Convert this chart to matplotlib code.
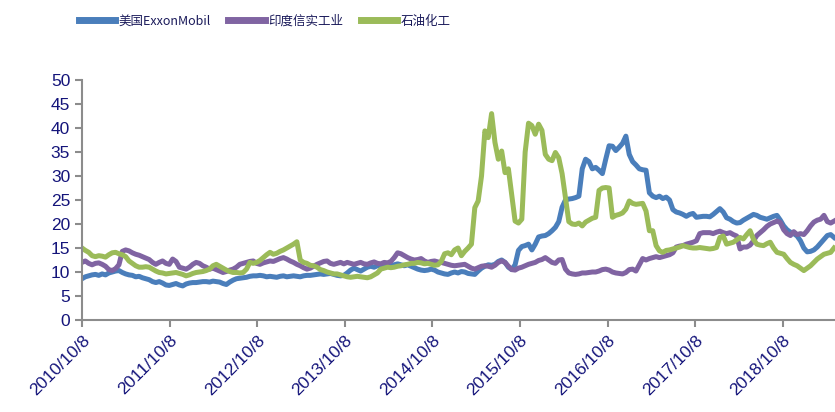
import matplotlib
matplotlib.use("Agg")
import matplotlib.pyplot as plt
import pandas as pd

plt.rcParams["font.family"] = ["Liberation Sans", "Noto Sans CJK SC", "DejaVu Sans"]

# 双周数据, 起始 2010/10/8
start = "2010-10-08"

exxon = [
    8.6, 9.0, 9.2, 9.4, 9.5, 9.3, 9.6, 9.4, 9.8, 10.0, 10.2, 10.3, 9.9,
    9.6, 9.4, 9.3, 9.0, 9.1, 8.8, 8.6, 8.4, 8.0, 7.8, 8.0, 7.7, 7.3,
    7.2, 7.4, 7.6, 7.3, 7.1, 7.5, 7.7, 7.8, 7.8, 7.9, 8.0, 8.0, 7.9,
    8.1, 8.0, 7.9, 7.6, 7.4, 7.9, 8.3, 8.6, 8.7, 8.8, 8.9, 9.1, 9.2,
    9.2, 9.3, 9.2, 9.0, 9.1, 9.0, 8.9, 9.1, 9.2, 9.0, 9.1, 9.2, 9.1,
    9.0, 9.2, 9.3, 9.3, 9.4, 9.5, 9.6, 9.5, 9.6, 9.7, 9.5, 9.3, 9.2,
    9.3, 9.8, 10.4, 10.8, 10.5, 10.2, 10.6, 11.0, 11.2, 11.0, 11.3, 11.4, 11.5,
    11.6, 11.4, 11.5, 11.7, 11.5, 11.3, 11.5, 11.2, 10.9, 10.6, 10.4, 10.3, 10.4,
    10.6, 10.4, 10.0, 9.8, 9.6, 9.5, 9.8, 10.0, 9.8, 10.1, 10.0, 9.7, 9.6,
    9.5, 10.2, 10.8, 11.2, 11.5, 11.4, 11.6, 12.2, 12.5, 12.0, 11.0, 10.5, 11.5,
    14.5, 15.3, 15.5, 15.8, 14.6, 15.8, 17.3, 17.5, 17.6, 18.0, 18.6, 19.3, 20.5,
    23.5, 25.0, 25.2, 25.3, 25.5, 25.8, 31.5, 33.5, 33.0, 31.5, 31.8, 31.2, 30.5,
    33.5, 36.3, 36.2, 35.3, 36.0, 36.8, 38.3, 34.5, 33.0, 32.3, 31.5, 31.3, 31.2,
    26.5, 25.8, 25.5, 25.8, 25.3, 25.6, 25.0, 23.0, 22.5, 22.3, 22.0, 21.6, 22.0,
    22.2, 21.4, 21.5, 21.6, 21.6, 21.5, 22.0, 22.6, 23.2, 22.5, 21.3, 21.0, 20.5,
    20.2, 20.3, 20.8, 21.2, 21.6, 22.0, 21.8, 21.4, 21.2, 21.0, 21.3, 21.6, 21.8,
    20.8, 19.6, 18.8, 18.3, 18.0, 17.5, 16.5, 15.0, 14.2, 14.3, 14.6, 15.2, 16.0,
    16.8, 17.6, 17.8, 17.2,
]

reliance = [
    12.0, 12.3, 11.8, 11.5, 11.8, 11.9, 11.6, 11.2, 10.5, 10.3, 10.7, 11.5, 14.3,
    14.6, 14.4, 14.0, 13.7, 13.5, 13.2, 12.9, 12.6, 12.0, 11.6, 12.0, 12.3, 11.8,
    11.6, 12.7, 12.2, 11.0, 10.8, 10.6, 11.0, 11.6, 12.0, 11.8, 11.3, 11.0, 10.6,
    10.8, 10.5, 10.2, 9.9, 10.1, 10.4, 10.6, 11.0, 11.6, 11.8, 12.0, 12.2, 12.3,
    11.8, 11.6, 11.9, 12.1, 12.3, 12.2, 12.5, 12.8, 13.0, 12.7, 12.3, 12.0, 11.6,
    11.3, 10.9, 10.6, 10.8, 11.2, 11.6, 11.9, 12.2, 12.3, 11.8, 11.6, 11.8, 12.0,
    11.7, 12.0, 11.8, 11.6, 11.8, 12.0, 11.7, 11.6, 11.9, 12.1, 11.8, 11.7, 12.0,
    11.9, 12.2, 13.0, 14.0, 13.8, 13.4, 13.0, 12.7, 12.5, 12.6, 12.8, 12.3, 12.0,
    12.2, 12.3, 12.1, 12.0, 11.8, 11.6, 11.4, 11.3, 11.4, 11.5, 11.6, 11.2, 10.8,
    10.6, 10.9, 11.2, 11.3, 11.2, 11.0, 11.4, 12.0, 12.3, 12.0, 11.2, 10.5, 10.4,
    10.8, 11.0, 11.3, 11.6, 11.8, 12.0, 12.4, 12.6, 13.0, 12.5, 12.0, 11.8, 12.5,
    12.6, 10.6, 9.8, 9.6, 9.5, 9.6, 9.8, 9.8, 9.9, 10.0, 10.0, 10.2, 10.5,
    10.6, 10.4, 10.0, 9.8, 9.7, 9.6, 9.9, 10.5, 10.6, 10.2, 11.5, 12.8, 12.5,
    12.8, 13.0, 13.2, 13.0, 13.2, 13.4, 13.6, 14.0, 15.2, 15.4, 15.5, 15.8, 16.0,
    16.2, 16.5, 18.0, 18.2, 18.2, 18.2, 18.0, 18.3, 18.5, 18.2, 18.0, 18.2, 17.8,
    17.5, 14.8, 15.2, 15.2, 15.6, 16.5, 17.6, 18.2, 18.8, 19.5, 20.0, 20.3, 20.6,
    20.3, 18.8, 18.0, 17.6, 18.4, 17.8, 18.0, 17.8, 18.6, 19.6, 20.4, 20.8, 21.0,
    21.8, 20.5, 20.2, 20.6,
]

petrochem = [
    15.0, 14.5, 14.1, 13.4, 13.2, 13.4, 13.3, 13.1, 13.6, 14.0, 14.1, 13.8, 13.6,
    13.2, 12.3, 11.8, 11.3, 11.0, 11.0, 11.1, 11.0, 10.6, 10.2, 9.9, 9.8, 9.6,
    9.7, 9.8, 9.9, 9.7, 9.5, 9.2, 9.4, 9.7, 9.9, 10.0, 10.1, 10.3, 10.6,
    11.3, 11.6, 11.2, 10.8, 10.4, 10.1, 9.9, 9.9, 9.8, 9.9, 10.6, 12.0, 11.8,
    12.0, 12.4, 13.0, 13.6, 14.1, 13.7, 13.9, 14.3, 14.6, 15.0, 15.4, 15.8, 16.3,
    12.5, 12.0, 11.8, 11.4, 11.3, 11.0, 10.5, 10.3, 10.0, 9.8, 9.6, 9.6, 9.4,
    9.2, 9.0, 8.9, 9.0, 9.1, 9.0, 8.9, 8.8, 9.0, 9.4, 9.8, 10.6, 10.8,
    11.0, 10.9, 11.0, 11.2, 11.3, 11.5, 11.6, 11.8, 11.8, 12.0, 11.9, 11.7, 11.8,
    11.6, 11.4, 11.5, 12.2, 13.8, 14.0, 13.6, 14.6, 15.0, 13.4, 14.3, 15.0, 15.8,
    23.4, 24.8, 30.0, 39.4, 38.0, 43.0, 37.0, 33.5, 35.2, 30.7, 31.5, 26.0, 20.6,
    20.2, 21.0, 35.0, 41.0, 40.5, 38.7, 40.8, 39.5, 34.5, 33.5, 33.2, 34.9, 33.8,
    30.5, 25.5, 20.5, 20.0, 19.9, 20.2, 19.6, 20.4, 20.8, 21.2, 21.4, 27.0, 27.5,
    27.6, 27.5, 21.4, 21.8, 22.0, 22.3, 23.1, 24.8, 24.3, 24.1, 24.2, 24.3, 22.7,
    18.6, 18.6, 15.5, 14.4, 14.1, 14.5, 14.6, 14.8, 15.0, 15.2, 15.5, 15.3, 15.1,
    15.0, 15.0, 15.1, 15.0, 14.9, 14.8, 14.9, 15.1, 17.2, 17.5, 15.8, 16.0, 16.2,
    16.7, 17.2, 16.9, 17.8, 18.6, 16.8, 15.8, 15.6, 15.5, 15.9, 16.2, 15.0, 14.1,
    13.9, 13.7, 12.8, 12.0, 11.6, 11.3, 10.8, 10.3, 10.8, 11.3, 12.0, 12.7, 13.2,
    13.7, 13.9, 14.1, 15.0,
]

series = [
    ("美国ExxonMobil", exxon, "#4A7EBB"),
    ("印度信实工业", reliance, "#8064A2"),
    ("石油化工", petrochem, "#9BBB59"),
]

tick_years = list(range(2010, 2019))
tick_labels = [f"{y}/10/8" for y in tick_years]
navy = "#14147A"
grey = "#8C8C8C"

fig = plt.figure(figsize=(8.35, 4.12), dpi=100, facecolor="white")
ax = fig.add_axes([0.0982, 0.2233, 0.9018, 0.5825])

for name, vals, color in series:
    dates = pd.date_range(start, periods=len(vals), freq="14D")
    ax.plot(dates, vals, color=color, lw=3.6, label=name, solid_joinstyle="round")

ax.set_ylim(0, 50)
ax.set_yticks(range(0, 51, 5))
ax.set_xlim(pd.Timestamp("2010-10-08"), pd.Timestamp("2019-05-14"))
ax.set_xticks([pd.Timestamp(f"{y}-10-08") for y in tick_years])
ax.set_xticklabels(tick_labels, rotation=45, ha="right", rotation_mode="anchor")

for side in ("top", "right"):
    ax.spines[side].set_visible(False)
for side in ("left", "bottom"):
    ax.spines[side].set_color(grey)
    ax.spines[side].set_linewidth(1.5)
ax.tick_params(axis="both", colors=grey, width=1.5, length=5, labelsize=12.5,
               labelcolor=navy)
ax.tick_params(axis="x", pad=4)

leg = fig.legend(loc="center", bbox_to_anchor=(0.317, 0.949), ncol=3, frameon=False,
                 handlelength=2.9, columnspacing=1.4, handletextpad=0.3,
                 prop={"family": ["Liberation Sans Narrow", "Noto Sans CJK SC",
                                  "DejaVu Sans"], "size": 9})
for t in leg.get_texts():
    t.set_color("#1A1A5A")
for line in leg.get_lines():
    line.set_linewidth(5)

fig.savefig("out.png", dpi=100, facecolor="white")
